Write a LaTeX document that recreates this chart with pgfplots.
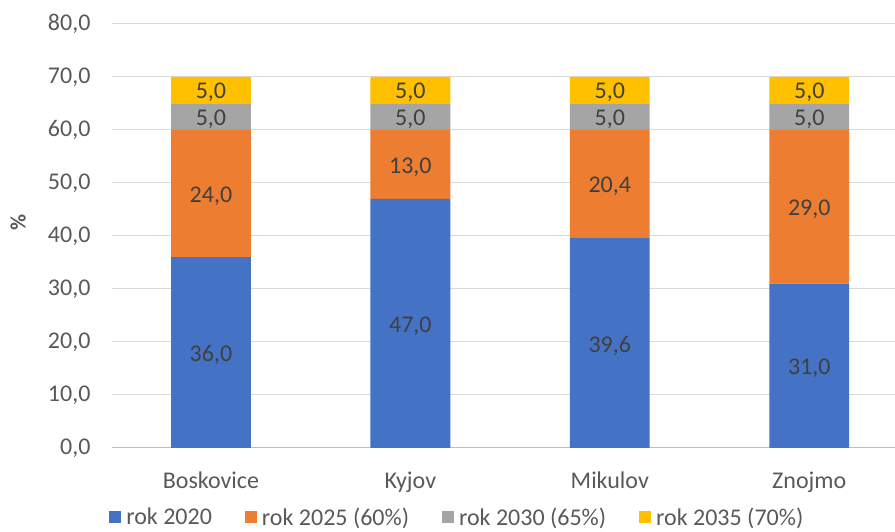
\documentclass[border=0pt]{standalone}
\usepackage{fontspec}
\setmainfont{Carlito}
\usepackage{pgfplots}
\pgfplotsset{compat=1.18}
\definecolor{cA}{HTML}{4472C4}
\definecolor{cB}{HTML}{ED7D31}
\definecolor{cC}{HTML}{A5A5A5}
\definecolor{cD}{HTML}{FFC000}
\definecolor{gridgray}{HTML}{D9D9D9}
\definecolor{axisgray}{HTML}{BFBFBF}
\definecolor{tickgray}{HTML}{595959}
\definecolor{labelgray}{HTML}{404040}
\begin{document}
\begin{tikzpicture}
\useasboundingbox (-112pt,-84pt) rectangle (783pt,448pt);
\begin{axis}[
  at={(0pt,0pt)}, anchor=south west, scale only axis,
  width=783pt, height=424pt,
  ybar stacked, bar width=0.4,
  xmin=-0.496, xmax=3.43, ymin=0, ymax=80,
  xtick={0,1,2,3}, xticklabels={Boskovice,Kyjov,Mikulov,Znojmo},
  ytick={0,10,...,80},
  ymajorgrids, grid style={draw=gridgray, line width=1pt},
  separate axis lines,
  axis x line*=bottom, x axis line style={draw=axisgray, line width=1pt, -},
  axis y line*=left, y axis line style={draw=none},
  major tick length=0pt,
  tick label style={font=\fontsize{24}{24}\selectfont, text=tickgray},
  /pgf/number format/assume math mode=true,
  yticklabel style={/pgf/number format/.cd, fixed, fixed zerofill, precision=1, use comma, /tikz/.cd, xshift=-18pt},
  xticklabel style={yshift=-20pt},
  ylabel={\textbf{\%}},
  ylabel style={at={(axis description cs:-0.12,0.533)}, anchor=center, font=\fontsize{22}{22}\selectfont, text=tickgray},
  visualization depends on=rawy \as \rawy,
  nodes near coords={\pgfmathprintnumber[fixed,fixed zerofill,precision=1,use comma,assume math mode=true]{\rawy}},
  every node near coord/.append style={anchor=center, yshift=-2.5pt, font=\fontsize{24}{24}\selectfont, text=labelgray},
  legend columns=4,
  legend style={at={(axis description cs:0.441,-0.163)}, anchor=center, draw=none, fill=none,
    font=\fontsize{24}{24}\selectfont, text=tickgray,
    /tikz/every even column/.append style={column sep=31pt},
    /tikz/every odd column/.append style={column sep=3pt}},
  legend image code/.code={\fill[#1] (0pt,-6pt) rectangle (12pt,6pt);},
]
\addplot[fill=cA, draw=none] coordinates {(0,36) (1,47) (2,39.6) (3,31)};
\addplot[fill=cB, draw=none] coordinates {(0,24) (1,13) (2,20.4) (3,29)};
\addplot[fill=cC, draw=none] coordinates {(0,5) (1,5) (2,5) (3,5)};
\addplot[fill=cD, draw=none] coordinates {(0,5) (1,5) (2,5) (3,5)};
\legend{rok 2020, rok 2025 (60\%), rok 2030 (65\%), rok 2035 (70\%)}
\end{axis}
\end{tikzpicture}
\end{document}
